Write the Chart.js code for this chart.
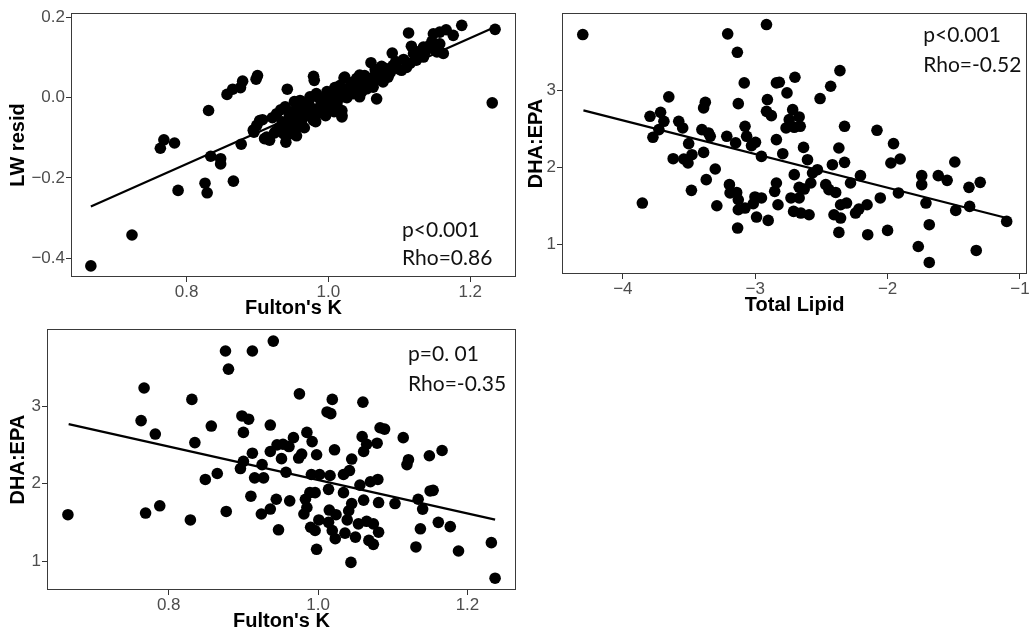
<!DOCTYPE html>
<html>
<head>
<meta charset="utf-8">
<script src="https://cdn.jsdelivr.net/npm/chart.js@4/dist/chart.umd.min.js"></script>
<style>
  html, body { margin: 0; padding: 0; background: #fff; width: 1033px; height: 633px; overflow: hidden; }
  canvas { position: absolute; }
</style>
</head>
<body>
<canvas id="lwPanel" width="522" height="320" style="left:0;top:0"></canvas>
<canvas id="lipidPanel" width="513" height="320" style="left:520px;top:0"></canvas>
<canvas id="fultonPanel" width="522" height="315" style="left:0;top:318px"></canvas>
<script>
// ---- Fulton's K vs length-weight residual ----
const lwFulton = [0.665,0.723,0.763,0.768,0.783,0.788,0.826,0.829,0.831,0.834,0.848,0.848,0.866,0.877,0.857,0.865,0.876,0.879,0.898,0.900,0.895,0.899,0.903,0.907,0.913,0.917,0.910,0.927,0.939,0.940,0.946,0.950,0.942,0.960,0.964,0.974,0.983,0.988,0.979,0.979,0.980,0.997,1.012,1.019,1.019,1.019,1.021,1.022,1.023,1.028,1.030,1.035,1.035,1.042,1.044,1.044,1.049,1.054,1.054,1.060,1.063,1.063,1.068,1.073,1.077,1.082,1.084,1.090,1.091,1.103,1.113,1.115,1.117,1.124,1.134,1.134,1.143,1.148,1.153,1.157,1.157,1.162,1.166,1.176,1.188,1.231,1.235,0.930,0.935,0.945,0.955,0.958,0.962,0.968,0.970,0.975,0.985,0.990,0.993,1.000,1.005,1.008,1.010,0.955,0.925,0.998,1.015,0.894,
  0.921,0.924,0.933,0.937,0.944,0.948,0.952,0.957,0.966,0.967,0.972,0.978,0.982,0.986,0.992,0.996,1.002,1.004,1.009,1.013,1.016,1.026,1.031,1.038,1.040,1.047,1.051,1.057,1.066,1.070,1.075,1.080,1.087,1.095,1.098,1.106,1.110,1.120,1.128,1.138,1.146,1.150];
const lwResid  = [-0.419,-0.342,-0.126,-0.105,-0.113,-0.231,-0.213,-0.237,-0.032,-0.146,-0.152,-0.165,-0.208,-0.116,0.008,0.021,0.025,0.041,0.046,0.055,-0.086,-0.069,-0.057,-0.055,-0.098,-0.106,-0.102,-0.040,-0.023,-0.111,-0.090,-0.057,0.021,-0.007,-0.032,0.002,0.010,-0.023,-0.057,0.053,0.043,-0.007,-0.015,-0.044,-0.032,-0.048,0.002,0.049,0.051,0.014,0.014,0.039,0.010,0.018,0.056,0.002,0.031,0.043,0.022,0.087,0.051,0.026,-0.003,0.060,0.039,0.072,0.051,0.111,0.080,0.068,0.161,0.085,0.128,0.093,0.126,0.101,0.130,0.159,0.114,0.163,0.134,0.110,0.169,0.155,0.180,-0.013,0.170,-0.075,-0.060,-0.045,-0.075,-0.030,-0.060,-0.015,-0.045,-0.025,-0.040,-0.005,-0.030,-0.020,0.000,-0.035,0.010,-0.095,-0.085,0.015,0.020,-0.081,
  -0.050,-0.088,-0.030,-0.090,-0.070,-0.035,-0.010,-0.050,-0.075,-0.040,-0.010,-0.030,-0.060,0.000,-0.015,-0.045,0.008,-0.028,0.025,-0.005,0.030,0.000,0.030,0.020,0.048,0.015,0.055,0.035,0.070,0.045,0.078,0.055,0.062,0.090,0.072,0.095,0.075,0.110,0.115,0.118,0.140,0.120];
const lwFitX = [0.665, 1.235];
const lwFitY = [-0.271, 0.176];

// ---- Total lipid vs DHA:EPA ----
const lipid = [-4.303,-3.853,-3.795,-3.773,-3.728,-3.715,-3.690,-3.653,-3.620,-3.578,-3.548,-3.540,-3.508,-3.503,-3.482,-3.478,-3.403,-3.390,-3.390,-3.377,-3.370,-3.353,-3.340,-3.302,-3.290,-3.215,-3.208,-3.195,-3.190,-3.148,-3.140,-3.135,-3.128,-3.128,-3.133,-3.128,-3.083,-3.077,-3.077,-3.065,-3.028,-3.015,-3.002,-2.998,-2.990,-2.953,-2.953,-2.915,-2.908,-2.915,-2.902,-2.878,-2.840,-2.840,-2.840,-2.853,-2.828,-2.818,-2.760,-2.700,-2.717,-2.743,-2.767,-2.705,-2.668,-2.660,-2.792,-2.635,-2.605,-2.705,-2.730,-2.668,-2.668,-2.630,-2.580,-2.567,-2.530,-2.710,-2.655,-2.593,-2.510,-2.430,-2.360,-2.325,-2.368,-2.417,-2.325,-2.467,-2.443,-2.392,-2.280,-2.205,-2.405,-2.355,-2.355,-2.310,-2.242,-2.217,-2.155,-2.368,-2.150,-2.055,-2.080,-2.000,-1.955,-1.975,-1.905,-1.918,-1.768,-1.742,-1.742,-1.710,-1.685,-1.685,-1.617,-1.550,-1.492,-1.485,-1.385,-1.380,-1.330,-1.300,-1.100];
const lipidDhaEpa = [3.728,1.536,2.664,2.391,2.491,2.716,2.599,2.917,2.113,2.599,2.513,2.109,2.057,2.309,1.701,2.165,2.491,2.195,2.773,2.846,1.840,2.448,2.404,1.979,1.501,2.404,3.737,1.775,1.667,2.318,1.674,3.497,2.829,1.579,1.211,1.449,3.099,1.471,2.534,2.404,2.283,1.527,1.615,2.326,1.354,2.143,1.602,3.858,2.882,2.729,1.310,2.673,3.099,2.361,1.797,1.688,1.514,3.107,2.969,3.172,2.751,2.621,2.513,2.521,2.656,2.534,2.178,2.260,2.100,1.905,1.602,1.602,1.740,1.718,1.797,1.927,1.970,1.427,1.406,1.384,2.895,3.055,3.259,2.534,2.252,2.035,2.065,1.775,1.710,1.674,1.797,1.892,1.384,1.341,1.514,1.536,1.406,1.458,1.514,1.154,1.124,1.602,2.482,1.180,2.309,2.057,2.109,1.667,0.971,1.892,1.775,1.536,1.254,0.763,1.892,1.831,2.070,1.440,1.740,1.492,0.919,1.805,1.297];
const lipidFitX = [-4.298, -1.10];
const lipidFitY = [2.742, 1.341];

// ---- Fulton's K vs DHA:EPA ----
const fulton = [0.665,0.767,0.763,0.769,0.782,0.788,0.829,0.831,0.835,0.849,0.857,0.865,0.876,0.877,0.880,0.896,0.898,0.900,0.900,0.907,0.910,0.912,0.912,0.915,0.924,0.925,0.927,0.936,0.936,0.936,0.940,0.975,1.019,1.012,1.017,1.060,0.985,0.992,0.967,0.945,0.953,0.961,0.951,0.957,0.974,0.978,0.998,1.022,0.991,1.002,1.016,1.014,1.034,1.034,1.042,1.045,1.056,1.059,1.061,1.065,1.079,1.070,1.080,1.083,1.089,1.114,1.121,1.119,1.149,1.166,1.150,1.154,1.134,1.140,1.103,1.081,1.061,1.045,1.041,1.039,1.015,1.024,1.014,1.019,1.023,1.001,0.990,0.996,0.981,0.985,0.983,0.989,0.996,0.962,0.944,0.947,0.998,1.036,1.050,1.054,1.065,1.074,1.081,1.068,1.074,1.044,1.137,1.161,1.177,1.131,1.188,1.232,1.237];
const fultonDhaEpa = [1.600,3.240,2.818,1.621,2.644,1.715,1.532,3.092,2.533,2.056,2.747,2.133,3.719,1.642,3.484,2.197,2.878,2.665,2.290,2.836,1.839,2.396,3.719,2.077,1.609,2.248,2.077,2.418,2.760,1.673,3.847,3.164,3.092,2.930,2.908,3.057,2.665,2.546,2.597,2.503,2.512,2.482,2.325,2.149,2.333,2.384,2.376,2.440,2.120,2.120,2.107,1.928,1.885,2.120,2.171,2.320,1.983,2.610,2.418,2.512,2.525,2.026,2.056,2.725,2.708,2.597,2.312,2.248,2.363,2.431,1.907,1.915,1.800,1.672,1.744,1.757,1.788,1.744,1.651,1.532,1.660,1.600,1.501,1.395,1.289,1.532,1.437,1.395,1.609,1.693,1.800,1.885,1.885,1.779,1.800,1.404,1.152,1.361,1.310,1.481,1.514,1.481,1.373,1.267,1.216,0.982,1.417,1.501,1.446,1.182,1.130,1.238,0.778];
const fultonFitX = [0.666, 1.237];
const fultonFitY = [2.772, 1.536];

// ---- tick values and labels ----
const fultonTicks = [0.8, 1.0, 1.2];
const fultonTickLabels = ['0.8', '1.0', '1.2'];
const lwTicks = [-0.4, -0.2, 0.0, 0.2];
const lwTickLabels = ['\u22120.4', '\u22120.2', '0.0', '0.2'];
const lipidTicks = [-4, -3, -2, -1];
const lipidTickLabels = ['\u22124', '\u22123', '\u22122', '\u22121'];
const dhaTicks = [1, 2, 3];
const dhaTickLabels = ['1', '2', '3'];

// ---- statistics text ----
const lwStats = ['p<0.001', 'Rho=0.86'];
const lipidStats = ['p<0.001', 'Rho=-0.52'];
const fultonStats = ['p=0. 01', 'Rho=-0.35'];

const zip = (xs, ys) => xs.map((x, i) => ({ x, y: ys[i] }));

// frame around the plotting region
const panelBorder = {
  id: 'panelBorder',
  afterDraw(chart) {
    const { ctx, chartArea: a } = chart;
    ctx.save();
    ctx.strokeStyle = '#3a3a3a';
    ctx.lineWidth = 1;
    ctx.strokeRect(Math.round(a.left) + 0.5, Math.round(a.top) + 0.5,
                   Math.round(a.right - a.left) - 1, Math.round(a.bottom - a.top) - 1);
    ctx.restore();
  }
};

// correlation statistics written inside the plot
const statsText = {
  id: 'statsText',
  afterDraw(chart, args, opts) {
    const { ctx, chartArea: a } = chart;
    ctx.save();
    ctx.font = opts.font;
    ctx.fillStyle = '#111';
    ctx.textAlign = 'left';
    ctx.textBaseline = 'middle';
    const x = a.right - opts.fromRight;
    opts.lines.forEach((t, i) => {
      const y = opts.anchor === 'bottom'
        ? a.bottom - opts.offset + i * opts.gap
        : a.top + opts.offset + i * opts.gap;
      ctx.fillText(t, x, y);
    });
    ctx.restore();
  }
};

function axis(ticks, labels, min, max, title, size, titlePad, horizontal) {
  return {
    type: 'linear',
    min, max,
    afterBuildTicks: s => { s.ticks = ticks.map(v => ({ value: v })); },
    afterFit: s => { if (horizontal) s.height = size; else s.width = size; },
    ticks: {
      autoSkip: false,
      maxRotation: 0,
      padding: horizontal ? 0 : 1,
      color: '#4d4d4d',
      font: { family: 'Liberation Sans', size: 17 },
      callback: v => labels[ticks.indexOf(v)]
    },
    grid: { drawOnChartArea: false, drawTicks: true, tickLength: 5, color: '#333', lineWidth: 1 },
    border: { display: false },
    title: {
      display: true,
      text: title,
      color: '#000',
      font: { family: 'Liberation Sans', size: 20, weight: 'bold' },
      padding: horizontal ? { top: 0, bottom: titlePad } : { top: titlePad, bottom: 0 }
    }
  };
}

function panel(id, p) {
  new Chart(document.getElementById(id), {
    type: 'scatter',
    data: {
      datasets: [
        {
          data: zip(p.xs, p.ys),
          pointRadius: 5.8,
          pointBackgroundColor: '#000',
          pointBorderWidth: 0,
          order: 2
        },
        {
          data: zip(p.fitX, p.fitY),
          showLine: true,
          borderColor: '#000',
          borderWidth: 2.2,
          pointRadius: 0,
          order: 1
        }
      ]
    },
    options: {
      responsive: false,
      animation: false,
      events: [],
      layout: { padding: p.pad },
      plugins: {
        legend: { display: false },
        tooltip: { enabled: false },
        statsText: p.stats
      },
      scales: {
        x: axis(p.xTicks, p.xLabels, p.xMin, p.xMax, p.xTitle, p.xAxisH, p.xTitlePad, true),
        y: axis(p.yTicks, p.yLabels, p.yMin, p.yMax, p.yTitle, p.yAxisW, p.yTitlePad, false)
      }
    },
    plugins: [panelBorder, statsText]
  });
}

const statsFont = '21px Lato';

panel('lwPanel', {
  xs: lwFulton, ys: lwResid, fitX: lwFitX, fitY: lwFitY,
  xTicks: fultonTicks, xLabels: fultonTickLabels, xMin: 0.637, xMax: 1.2645, xTitle: "Fulton's K",
  yTicks: lwTicks, yLabels: lwTickLabels, yMin: -0.4466, yMax: 0.2107, yTitle: 'LW resid',
  pad: { left: 0, top: 13, right: 6, bottom: 0 },
  yAxisW: 71, xAxisH: 43, xTitlePad: 0, yTitlePad: 6,
  stats: { lines: lwStats, font: statsFont, fromRight: 114, anchor: 'bottom', offset: 47, gap: 28 }
});

panel('lipidPanel', {
  xs: lipid, ys: lipidDhaEpa, fitX: lipidFitX, fitY: lipidFitY,
  xTicks: lipidTicks, xLabels: lipidTickLabels, xMin: -4.46, xMax: -0.945, xTitle: 'Total Lipid',
  yTicks: dhaTicks, yLabels: dhaTickLabels, yMin: 0.613, yMax: 4.008, yTitle: 'DHA:EPA',
  pad: { left: 0, top: 13, right: 2, bottom: 0 },
  yAxisW: 42, xAxisH: 46, xTitlePad: 3, yTitlePad: 4,
  stats: { lines: lipidStats, font: statsFont, fromRight: 104, anchor: 'top', offset: 22, gap: 30 }
});

panel('fultonPanel', {
  xs: fulton, ys: fultonDhaEpa, fitX: fultonFitX, fitY: fultonFitY,
  xTicks: fultonTicks, xLabels: fultonTickLabels, xMin: 0.637, xMax: 1.265, xTitle: "Fulton's K",
  yTicks: dhaTicks, yLabels: dhaTickLabels, yMin: 0.625, yMax: 4.001, yTitle: 'DHA:EPA',
  pad: { left: 0, top: 8, right: 6, bottom: 0 },
  yAxisW: 47, xAxisH: 43, xTitlePad: 0, yTitlePad: 6,
  stats: { lines: fultonStats, font: statsFont, fromRight: 108, anchor: 'top', offset: 25, gap: 30 }
});
</script>
</body>
</html>
